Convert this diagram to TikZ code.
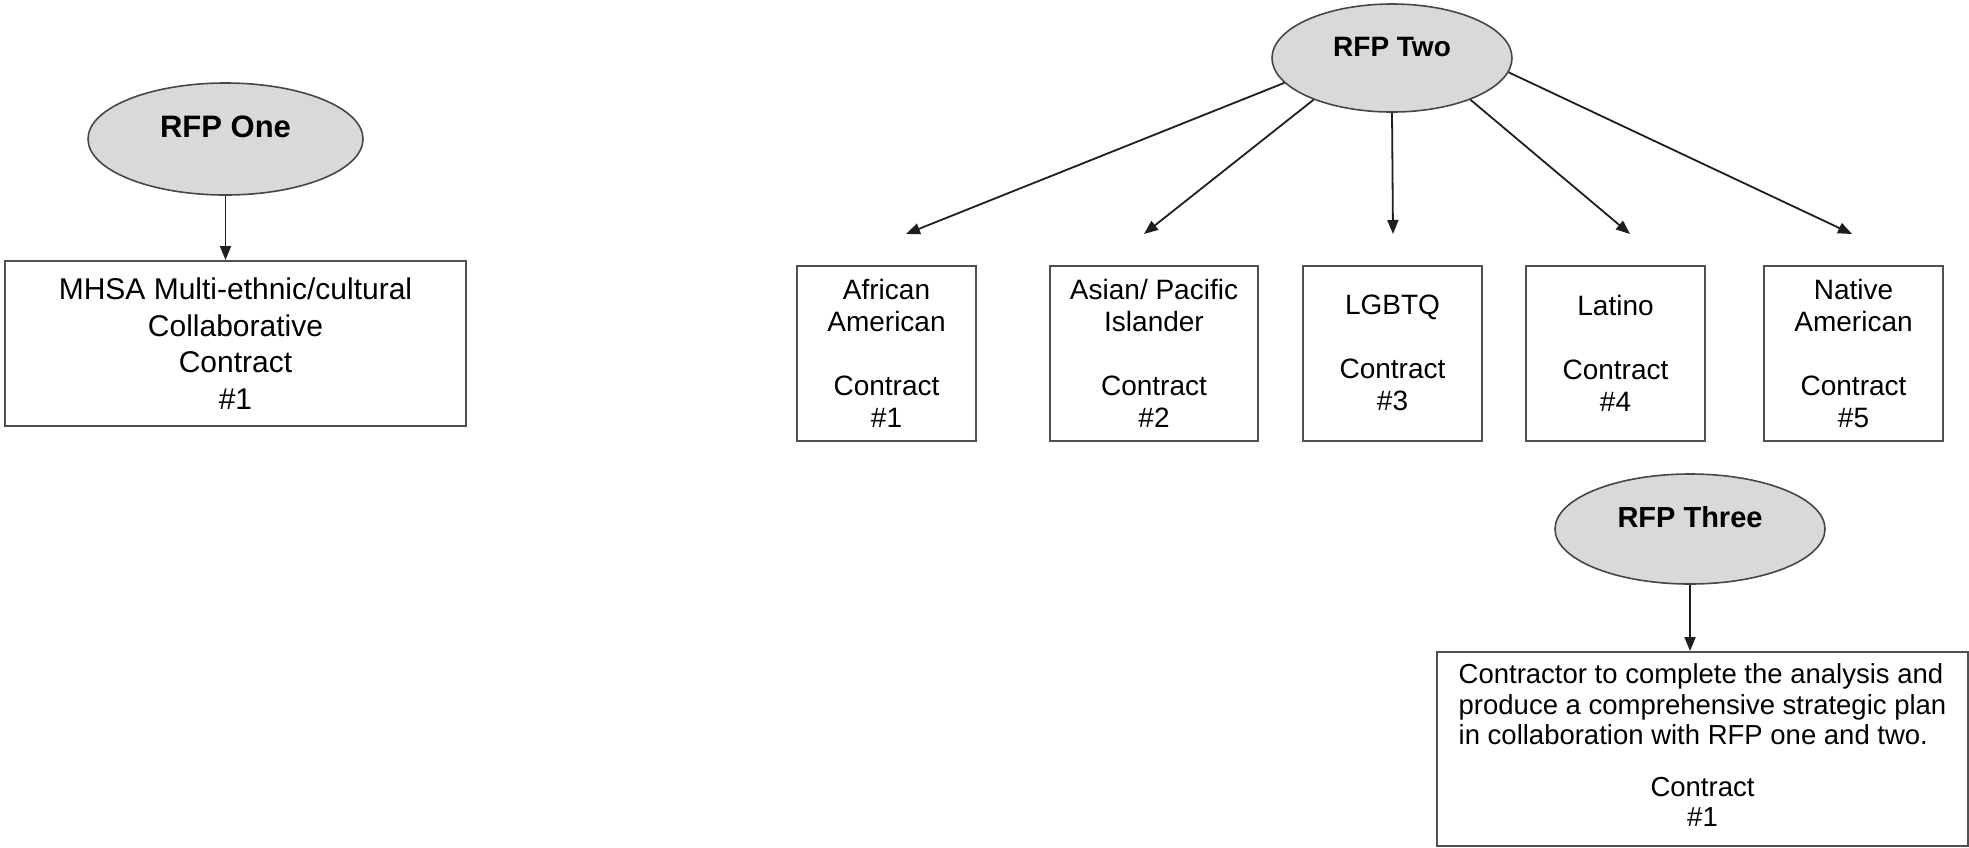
\documentclass[tikz,border=0pt]{standalone}
\usepackage{fontspec}
\setmainfont{Liberation Sans}
\usetikzlibrary{arrows.meta,shapes.geometric}
\definecolor{ellfill}{RGB}{217,217,217}
\definecolor{ellline}{RGB}{70,70,70}
\definecolor{boxline}{RGB}{80,80,80}
\definecolor{arrline}{RGB}{30,30,30}
\begin{document}
\begin{tikzpicture}[x=1pt,y=-1pt,
  rfp/.style={ellipse, draw=ellline, fill=ellfill, line width=1.6pt, inner sep=0pt,
    text height=21pt, text depth=25pt},
  cbox/.style={rectangle, draw=boxline, line width=2pt, inner sep=0pt, align=center,
    minimum width=179pt, minimum height=175pt, font=\fontsize{28}{32}\selectfont},
  arr/.style={draw=arrline, line width=1.8pt, -{Triangle[length=14pt,width=11pt]}}
]
\useasboundingbox (0,0) rectangle (1969,847);

% RFP One
\node[rfp, minimum width=275pt, minimum height=112pt, font=\fontsize{31}{34}\selectfont\bfseries] (rfp1) at (225.5,139) {RFP One};
\node[rectangle, draw=boxline, line width=2pt, inner sep=0pt, align=center,
  minimum width=461pt, minimum height=165pt, font=\fontsize{30}{36.5}\selectfont] (mhsa) at (235.5,343.5)
  {MHSA Multi-ethnic/cultural\\Collaborative\\Contract\\\#1};
\draw[arr] (rfp1.south) -- (rfp1.south |- mhsa.north);

% RFP Two
\node[rfp, minimum width=240pt, minimum height=108pt, font=\fontsize{28}{32}\selectfont\bfseries] (rfp2) at (1392,58) {RFP Two};
\node[cbox] (c1) at (886.5,353) {African\\American\\[32pt]Contract\\\#1};
\node[cbox, minimum width=208pt] (c2) at (1154,353) {Asian/ Pacific\\Islander\\[32pt]Contract\\\#2};
\node[cbox] (c3) at (1392.5,353) {LGBTQ\\[32pt]Contract\\\#3};
\node[cbox] (c4) at (1615.5,353) {Latino\\[32pt]Contract\\\#4};
\node[cbox] (c5) at (1853.5,353) {Native\\American\\[32pt]Contract\\\#5};

\coordinate (t1) at (906,234);
\coordinate (t2) at (1144,234);
\coordinate (t3) at (1393,234);
\coordinate (t4) at (1630,234);
\coordinate (t5) at (1852,234);
\draw[arr] (rfp2.-167.6) -- (t1);
\draw[arr] (rfp2.-152.6) -- (t2);
\draw[arr] (rfp2.south) -- (t3);
\draw[arr] (rfp2.-28) -- (t4);
\draw[arr] (rfp2.-7.6) -- (t5);

% RFP Three
\node[rfp, minimum width=270pt, minimum height=110pt, font=\fontsize{29}{33}\selectfont\bfseries] (rfp3) at (1690,529) {RFP Three};
\node[rectangle, draw=boxline, line width=2pt, inner sep=0pt,
  minimum width=531pt, minimum height=194pt, font=\fontsize{27.5}{30.5}\selectfont] (plan) at (1702.5,749)
  {\begin{tabular}{@{}l@{}}Contractor to complete the analysis and\\
   produce a comprehensive strategic plan\\
   in collaboration with RFP one and two.\\[21pt]
   \multicolumn{1}{@{}c@{}}{Contract}\\
   \multicolumn{1}{@{}c@{}}{\#1}\end{tabular}};
\draw[arr] (rfp3.south) -- (rfp3.south |- plan.north);
\end{tikzpicture}
\end{document}
